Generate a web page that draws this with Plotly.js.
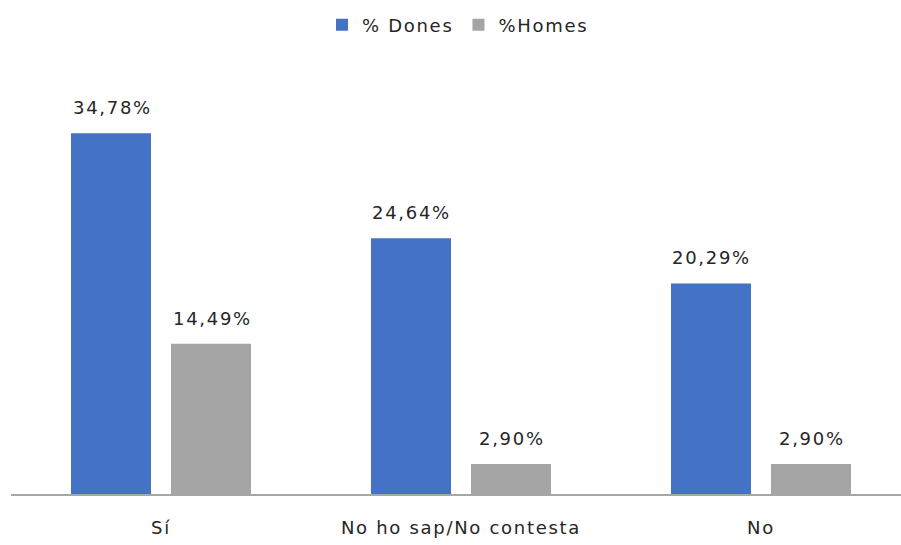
<!DOCTYPE html>
<html><head><meta charset="utf-8">
<script src="https://cdn.plot.ly/plotly-3.0.1.min.js"></script>
<style>body{margin:0;background:#fff}#c{width:901px;height:545px}
svg text{letter-spacing:1.7px}</style>
</head><body><div id="c"></div>
<script>
const categories = ["Sí", "No ho sap/No contesta", "No"];
const dones = [34.78, 24.64, 20.29];
const homes = [14.49, 2.90, 2.90];
const seriesNames = ["% Dones", "%Homes"];
const colors = ["#4472C4", "#A5A5A5"];
const fmt = v => v.toFixed(2).replace('.', ',') + '%';
const font = {family: "DejaVu Sans, Verdana, sans-serif", size: 18, color: "#262626"};
const traces = [dones, homes].map((vals, i) => ({
  type: 'bar', name: seriesNames[i], x: categories, y: vals,
  marker: {color: colors[i]}, hoverinfo: 'none'
}));
const annotations = [];
[dones, homes].forEach((vals, i) => {
  vals.forEach((v, j) => {
    annotations.push({x: categories[j], y: v, xref: 'x', yref: 'y', text: fmt(v),
      showarrow: false, xshift: (i === 0 ? -50 : 50) + 1, yanchor: 'bottom', yshift: 13, font: font});
  });
});
const plotH = 545 - 51;
const layout = {
  width: 901, height: 545,
  margin: {l: 11, r: 0, t: 0, b: 51},
  paper_bgcolor: '#fff', plot_bgcolor: '#fff',
  barmode: 'group', bargap: 0.3333, bargroupgap: 0.2,
  font: font,
  showlegend: true,
  legend: {orientation: 'h', x: (322 - 11) / 890, xanchor: 'left', y: (plotH - 25) / plotH, yanchor: 'middle',
           font: font, itemwidth: 30, traceorder: 'normal', bgcolor: 'rgba(0,0,0,0)'},
  annotations: annotations,
  xaxis: {range: [-0.5, 2.4667], showline: true, linecolor: '#a6a6a6', linewidth: 1.5,
          ticks: '', showgrid: false, zeroline: false, tickfont: font, fixedrange: true,
          ticklabelstandoff: 17},
  yaxis: {range: [0, 40], domain: [0, 415 / plotH], visible: false, showgrid: false, zeroline: false, fixedrange: true}
};
Plotly.newPlot('c', traces, layout, {displayModeBar: false, staticPlot: true});
</script></body></html>
